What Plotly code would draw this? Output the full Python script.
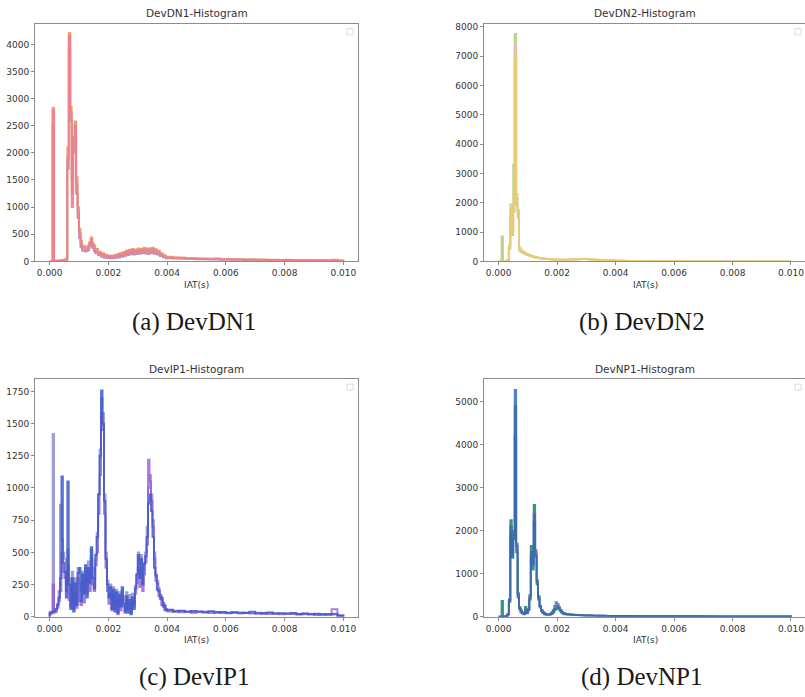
import plotly.graph_objects as go

# ---------------- bin grid (ms) ----------------
FINE_EDGES_MS = [round(0.05 * i, 2) for i in range(81)]          # 0.00 .. 4.00
COARSE_EDGES_MS = [round(4.0 + 0.2 * i, 1) for i in range(1, 31)]  # 4.2 .. 10.0
EDGES_S = [e / 1000.0 for e in FINE_EDGES_MS + COARSE_EDGES_MS]

X_TICKS = [0.000, 0.002, 0.004, 0.006, 0.008, 0.010]
TITLES = ["DevDN1-Histogram", "DevDN2-Histogram", "DevIP1-Histogram", "DevNP1-Histogram"]
CAPTIONS = ["(a) DevDN1", "(b) DevDN2", "(c) DevIP1", "(d) DevNP1"]
Y_TICKS_A = [0, 500, 1000, 1500, 2000, 2500, 3000, 3500, 4000]
Y_TICKS_B = [0, 1000, 2000, 3000, 4000, 5000, 6000, 7000, 8000]
Y_TICKS_C = [0, 250, 500, 750, 1000, 1250, 1500, 1750]
Y_TICKS_D = [0, 1000, 2000, 3000, 4000, 5000]

# ---------------- DevDN1 counts ----------------
A_GRAY = [0, 0, 2500, 5, 5, 8, 10, 12, 14, 16,
          20, 30, 1700, 3900, 2600, 1500, 2300, 2300, 1250, 800,
          430, 260, 200, 190, 180, 190, 210, 280, 350, 250,
          190, 150, 150, 110, 115, 85, 95, 65, 80, 60,
          72, 55, 70, 58, 80, 65, 90, 72, 105, 85,
          120, 100, 140, 115, 155, 130, 165, 125, 160, 135,
          175, 140, 170, 150, 185, 145, 175, 135, 180, 150,
          185, 140, 165, 125, 140, 100, 105, 75, 80, 55,
          56, 50, 46, 42, 44, 36, 38, 33, 35, 30, 31, 28, 29, 25, 27,
          24, 23, 22, 24, 19, 20, 18, 19, 16, 18, 15, 16, 14, 16, 10]
A_ORANGE = [0, 0, 2830, 15, 10, 12, 15, 18, 22, 25,
            30, 50, 2100, 4210, 2850, 1250, 2250, 2580, 1550, 1000,
            600, 380, 290, 280, 260, 270, 290, 360, 440, 330,
            300, 220, 230, 170, 175, 130, 150, 105, 125, 95,
            110, 85, 105, 90, 120, 100, 135, 115, 155, 130,
            175, 150, 200, 170, 215, 185, 230, 190, 220, 195,
            240, 205, 235, 210, 250, 205, 240, 195, 245, 210,
            250, 200, 225, 185, 195, 150, 150, 115, 115, 85,
            84, 74, 70, 64, 60, 56, 52, 48, 55, 44, 46, 40, 42, 37, 38,
            34, 33, 31, 32, 28, 29, 27, 27, 24, 25, 22, 23, 21, 30, 16]
A_PINK = [0, 0, 2780, 10, 8, 10, 12, 15, 18, 20,
          25, 40, 1900, 4150, 2750, 1000, 2000, 2500, 1400, 900,
          520, 320, 250, 240, 220, 230, 250, 330, 410, 300,
          240, 180, 190, 140, 150, 110, 125, 90, 105, 80,
          95, 70, 90, 75, 100, 85, 115, 95, 130, 110,
          150, 130, 175, 145, 190, 165, 205, 160, 195, 170,
          215, 180, 210, 185, 225, 180, 215, 170, 220, 185,
          230, 175, 200, 160, 175, 125, 130, 95, 100, 70,
          74, 66, 62, 56, 54, 48, 46, 42, 48, 38, 40, 35, 36, 32, 33,
          29, 29, 27, 28, 24, 25, 23, 23, 21, 22, 19, 20, 18, 24, 12]

# ---------------- DevDN2 counts ----------------
B_GREEN = [0, 0, 850, 0, 0, 0, 30, 420, 1600, 900,
           3300, 7750, 1900, 1500, 380, 330, 300, 270, 245, 225,
           205, 190, 175, 160, 140, 130, 120, 110, 100, 95,
           90, 85, 80, 75, 70, 68, 66, 64, 62, 60,
           58, 56, 55, 54, 53, 53, 54, 56, 58, 60,
           62, 64, 66, 68, 70, 72, 74, 76, 78, 76,
           74, 72, 70, 66, 62, 58, 55, 52, 48, 45,
           42, 40, 38, 36, 34, 32, 30, 28, 26, 24,
           22, 18, 15, 12, 10, 7, 5, 4, 3, 2, 2, 1, 1, 1, 0,
           0, 0, 0, 0, 0, 0, 0, 0, 0, 0, 0, 0, 0, 0, 0]
B_PINK = [0, 0, 0, 0, 0, 0, 50, 550, 1950, 1100,
          2000, 7400, 2300, 1750, 480, 400, 350, 310, 280, 255,
          235, 215, 195, 180, 160, 150, 140, 130, 120, 110,
          100, 95, 90, 85, 80, 76, 73, 70, 68, 65,
          63, 61, 60, 59, 58, 58, 59, 61, 63, 66,
          68, 70, 72, 75, 78, 80, 83, 85, 87, 85,
          82, 78, 75, 72, 68, 64, 60, 57, 54, 50,
          47, 44, 42, 40, 38, 36, 34, 32, 30, 28,
          25, 21, 18, 15, 12, 9, 7, 5, 4, 3, 2, 2, 1, 1, 1,
          0, 0, 0, 0, 0, 0, 0, 0, 0, 0, 0, 0, 0, 0, 0]
B_YELLOW = [0, 0, 0, 0, 0, 0, 40, 480, 1850, 950,
            1700, 7000, 2150, 1650, 420, 360, 320, 290, 260, 240,
            220, 200, 185, 170, 150, 140, 130, 120, 110, 100,
            95, 90, 85, 80, 75, 72, 70, 68, 65, 62,
            60, 58, 57, 56, 55, 55, 56, 58, 60, 62,
            64, 66, 68, 70, 72, 75, 78, 80, 82, 80,
            78, 75, 72, 70, 66, 62, 58, 55, 52, 48,
            45, 42, 40, 38, 36, 34, 32, 30, 28, 26,
            24, 20, 17, 14, 11, 8, 6, 4, 3, 2, 2, 1, 1, 1, 0,
            0, 0, 0, 0, 0, 0, 0, 0, 0, 0, 0, 0, 0, 0, 0]

# ---------------- DevIP1 counts ----------------
C_LIGHT = [40, 40, 1420, 50, 60, 100, 200, 870, 600, 500,
           450, 250, 520, 300, 120, 350, 100, 300, 160, 380,
           260, 200, 350, 220, 380, 260, 430, 300, 520, 380,
           300, 440, 650, 950, 1300, 1700, 1580, 950, 500, 280,
           220, 250, 140, 230, 110, 210, 90, 190, 110, 200,
           160, 80, 190, 90, 170, 70, 180, 110, 240, 320,
           500, 400, 480, 360, 420, 500, 700, 1000, 1100, 950,
           750, 500, 330, 280, 220, 170, 130, 100, 70, 55,
           50, 36, 44, 40, 34, 42, 30, 38, 35, 28, 34, 30, 25, 33, 28,
           24, 30, 22, 26, 24, 21, 25, 19, 20, 22, 16, 18, 15, 24, 8]
C_PURPLE = [20, 25, 250, 30, 40, 70, 120, 200, 500, 350,
            300, 200, 400, 130, 80, 250, 60, 180, 70, 300,
            120, 90, 270, 110, 320, 180, 350, 200, 450, 250,
            200, 400, 500, 800, 1100, 1580, 1450, 800, 380, 200,
            100, 180, 50, 170, 60, 120, 20, 140, 50, 160,
            80, 30, 120, 60, 100, 30, 120, 80, 180, 260,
            380, 230, 380, 200, 330, 420, 560, 1220, 1050, 900,
            700, 450, 280, 260, 160, 170, 90, 110, 50, 60,
            40, 48, 35, 42, 30, 38, 40, 28, 36, 32, 26, 34, 28, 30, 25,
            32, 22, 27, 24, 20, 26, 22, 18, 24, 20, 16, 19, 15, 58, 8]
C_BLUE = [30, 35, 40, 45, 60, 90, 150, 300, 1090, 420,
          350, 150, 1050, 250, 60, 300, 40, 260, 90, 340,
          380, 120, 330, 180, 400, 150, 380, 260, 540, 300,
          220, 480, 620, 950, 1250, 1757, 1500, 900, 450, 250,
          150, 230, 60, 210, 40, 190, 30, 170, 80, 230,
          100, 40, 160, 30, 130, 20, 150, 60, 220, 330,
          480, 300, 450, 250, 410, 470, 620, 880, 950, 820,
          620, 380, 320, 210, 200, 140, 150, 80, 90, 50,
          55, 42, 48, 38, 45, 40, 36, 44, 33, 38, 30, 35, 32, 28, 40,
          26, 30, 34, 25, 28, 24, 30, 22, 25, 20, 23, 18, 22, 20, 10]

# ---------------- DevNP1 counts ----------------
D_TEAL = [0, 0, 370, 0, 5, 15, 50, 350, 2250, 1370,
          1800, 4200, 1500, 450, 180, 150, 100, 80, 230, 100,
          180, 500, 1650, 1100, 2600, 1400, 750, 400, 220, 130,
          90, 60, 50, 45, 45, 55, 70, 100, 150, 180,
          200, 170, 130, 90, 70, 60, 55, 52, 50, 48,
          46, 44, 42, 40, 38, 36, 35, 34, 32, 30,
          30, 29, 28, 27, 26, 25, 25, 24, 23, 23,
          22, 22, 21, 20, 20, 19, 19, 18, 18, 17,
          17, 16, 16, 15, 15, 14, 14, 13, 13, 12, 12, 11, 11, 11, 10,
          10, 10, 9, 9, 9, 8, 8, 8, 7, 7, 7, 6, 6, 6, 5]
D_PURPLE = [0, 0, 0, 5, 10, 18, 55, 380, 1900, 1500,
            2000, 4900, 1700, 550, 220, 120, 90, 70, 150, 90,
            160, 450, 1400, 1250, 2400, 1550, 850, 480, 260, 160,
            110, 80, 65, 55, 55, 70, 100, 160, 250, 340,
            300, 220, 160, 110, 85, 75, 65, 60, 58, 55,
            52, 50, 48, 45, 42, 40, 38, 36, 35, 33,
            32, 31, 30, 29, 28, 27, 26, 26, 25, 24,
            24, 23, 22, 22, 21, 20, 20, 19, 19, 18,
            18, 17, 17, 16, 16, 15, 15, 14, 14, 13, 13, 12, 12, 12, 11,
            11, 11, 10, 10, 10, 9, 9, 9, 8, 8, 8, 7, 7, 7, 6]
D_BLUE = [0, 0, 0, 5, 10, 20, 60, 400, 2100, 1400,
          1900, 5280, 1650, 500, 200, 100, 80, 60, 120, 80,
          150, 400, 1500, 1200, 2200, 1450, 800, 450, 250, 150,
          100, 70, 60, 50, 50, 60, 80, 120, 180, 220,
          250, 200, 150, 100, 80, 70, 60, 60, 55, 50,
          50, 45, 45, 40, 40, 38, 35, 35, 32, 30,
          30, 30, 28, 28, 26, 26, 25, 25, 24, 24,
          23, 22, 22, 21, 20, 20, 20, 19, 18, 18,
          18, 17, 16, 16, 15, 15, 14, 14, 13, 13, 12, 12, 12, 11, 11,
          10, 10, 10, 9, 9, 9, 8, 8, 8, 7, 7, 7, 6, 6, 6]

PANELS = [
    [(A_GRAY, "rgba(150,120,165,0.75)"), (A_ORANGE, "rgba(222,150,75,0.85)"), (A_PINK, "rgba(242,125,145,0.9)")],
    [(B_GREEN, "rgba(175,205,130,0.85)"), (B_PINK, "rgba(238,188,170,0.8)"), (B_YELLOW, "rgba(232,205,110,0.9)")],
    [(C_LIGHT, "rgba(135,135,205,0.8)"), (C_PURPLE, "rgba(150,90,215,0.8)"), (C_BLUE, "rgba(60,90,200,0.85)")],
    [(D_TEAL, "rgba(40,135,120,0.9)"), (D_PURPLE, "rgba(105,85,180,0.8)"), (D_BLUE, "rgba(50,110,175,0.85)")],
]
Y_TICKS = [Y_TICKS_A, Y_TICKS_B, Y_TICKS_C, Y_TICKS_D]
Y_MAX = [4380, 8100, 1845, 5530]

W, H = 805, 697
# pixel boxes (left, right, top, bottom)
BOXES = [(35, 358, 22, 262), (484, 805, 22, 262), (35, 358, 381, 621), (484, 805, 381, 621)]
X_RANGES = [[-0.0005, 0.0105], [-0.0005, 0.01048], [-0.0005, 0.0105], [-0.0005, 0.01048]]


def step_xy(edges, counts):
    xs = [edges[0]] + list(edges)
    ys = [0] + list(counts) + [0]
    return xs, ys


fig = go.Figure()
TEXT = "#333333"
SPINE = "#8c8c8c"
annotations = []
shapes = []

for p in range(4):
    xa = "x" if p == 0 else f"x{p + 1}"
    ya = "y" if p == 0 else f"y{p + 1}"
    for counts, color in PANELS[p]:
        xs, ys = step_xy(EDGES_S, counts)
        fig.add_trace(go.Scatter(x=xs, y=ys, mode="lines", xaxis=xa, yaxis=ya,
                                 line=dict(shape="hv", width=1.9, color=color),
                                 showlegend=False, hoverinfo="skip"))
    l, r, t, b = BOXES[p]
    dom_x = [l / W, r / W]
    dom_y = [1 - b / H, 1 - t / H]
    right_visible = r < W
    xkey = "xaxis" if p == 0 else f"xaxis{p + 1}"
    ykey = "yaxis" if p == 0 else f"yaxis{p + 1}"
    fig.update_layout(**{
        xkey: dict(domain=dom_x, range=X_RANGES[p], anchor=ya, tickvals=X_TICKS,
                   tickformat=".3f", ticks="outside", ticklen=3, tickwidth=1, tickcolor=SPINE,
                   showline=True, linecolor=SPINE, linewidth=1, mirror=True,
                   showgrid=False, zeroline=False,
                   tickfont=dict(family="DejaVu Sans", size=9, color=TEXT)),
        ykey: dict(domain=dom_y, range=[0, Y_MAX[p]], anchor=xa, tickvals=Y_TICKS[p],
                   ticks="outside", ticklen=3, tickwidth=1, tickcolor=SPINE,
                   showline=True, linecolor=SPINE, linewidth=1, mirror=right_visible,
                   showgrid=False, zeroline=False,
                   tickfont=dict(family="DejaVu Sans", size=9, color=TEXT)),
    })
    cx = (l + r) / 2 / W
    if p in (1, 3):
        cx = (484 + 806) / 2 / W
    # title
    annotations.append(dict(text=TITLES[p], x=cx, y=1 - (t - 10.5) / H, xref="paper", yref="paper",
                            showarrow=False, xanchor="center", yanchor="middle",
                            font=dict(family="DejaVu Sans", size=10.5, color=TEXT)))
    # x label
    annotations.append(dict(text="IAT(s)", x=cx, y=1 - (b + 23.5) / H, xref="paper", yref="paper",
                            showarrow=False, xanchor="center", yanchor="middle",
                            font=dict(family="DejaVu Sans", size=9, color=TEXT)))
    # caption
    annotations.append(dict(text=CAPTIONS[p], x=cx - 3 / W, y=1 - (b + 61) / H, xref="paper", yref="paper",
                            showarrow=False, xanchor="center", yanchor="middle",
                            font=dict(family="Liberation Serif", size=25, color="#1a1a1a")))
    # empty legend box
    lx0 = (l + 312) if p in (0, 2) else (l + 311)
    shapes.append(dict(type="rect", xref="paper", yref="paper",
                       x0=lx0 / W, x1=(lx0 + 6) / W, y0=1 - (t + 11) / H, y1=1 - (t + 5) / H,
                       line=dict(color="#dcdcdc", width=1), fillcolor="rgba(255,255,255,0.8)"))

fig.update_layout(width=W, height=H, margin=dict(l=0, r=0, t=0, b=0),
                  paper_bgcolor="white", plot_bgcolor="white",
                  annotations=annotations, shapes=shapes, showlegend=False)

fig.write_html("out.html")
